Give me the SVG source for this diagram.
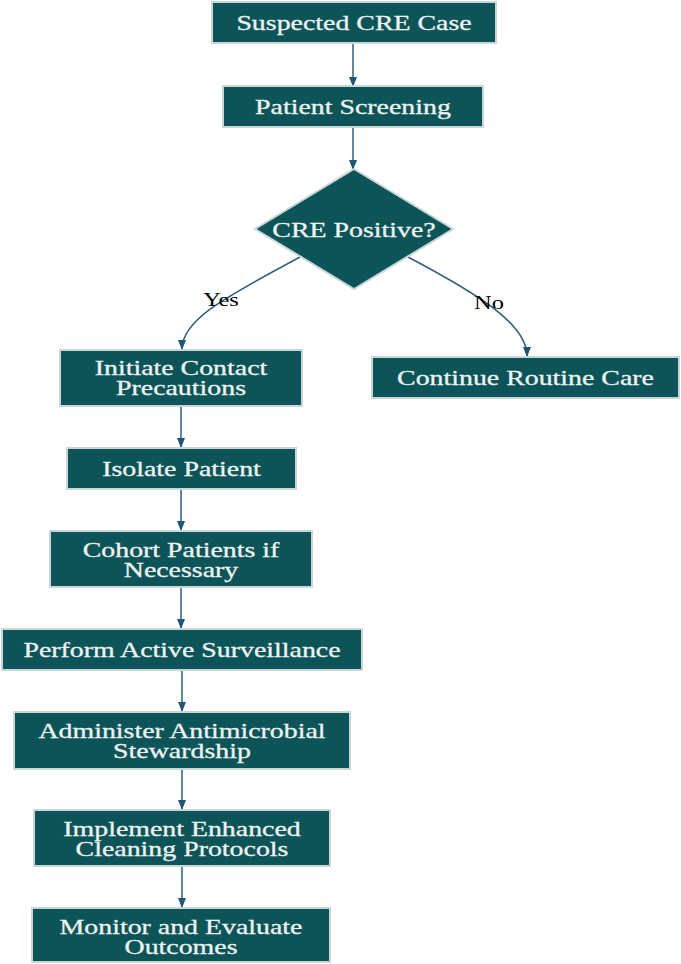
<svg xmlns="http://www.w3.org/2000/svg" width="681" height="964" viewBox="0 0 681 964">
<style>
.box{fill:#0c5458;stroke:#c9d6d6;stroke-width:2}
.t{font-family:"Liberation Serif","Times New Roman",serif;font-size:20.5px;fill:#eef2f0;text-anchor:middle;stroke:#eef2f0;stroke-width:0.3}
.lbl{font-family:"Liberation Serif","Times New Roman",serif;font-size:18px;fill:#000;text-anchor:middle}
.c{fill:none;stroke:#2b6080;stroke-width:1.5}
</style>
<defs>
<marker id="ah" markerUnits="userSpaceOnUse" markerWidth="10" markerHeight="8" refX="9" refY="4" orient="auto">
<path d="M0,0 L10,4 L0,8 Z" fill="#1f5575"/>
</marker>
</defs>
<rect width="681" height="964" fill="#fff"/>
<g id="connectors">
<path class="c" d="M353,43 V86" marker-end="url(#ah)"/>
<path class="c" d="M353,127 V169" marker-end="url(#ah)"/>
<path class="c" d="M300,257 C232,294 182,318 182,349" marker-end="url(#ah)"/>
<path class="c" d="M408,257 C478,294 527,324 527,356" marker-end="url(#ah)"/>
<path class="c" d="M181,406 V447" marker-end="url(#ah)"/>
<path class="c" d="M181,489 V530" marker-end="url(#ah)"/>
<path class="c" d="M181,587 V628" marker-end="url(#ah)"/>
<path class="c" d="M182,670 V711" marker-end="url(#ah)"/>
<path class="c" d="M182,769 V809" marker-end="url(#ah)"/>
<path class="c" d="M182,866 V907" marker-end="url(#ah)"/>
<text class="lbl" transform="matrix(1.36 0 0 1 221 306)">Yes</text>
<text class="lbl" transform="matrix(1.36 0 0 1 489 309)">No</text>
</g>
<g id="n1"><rect class="box" x="212" y="2" width="284" height="41"/>
<text class="t" transform="matrix(1.36 0 0 1 354 30)">Suspected CRE Case</text></g>
<g id="n2"><rect class="box" x="223" y="86" width="260" height="41"/>
<text class="t" transform="matrix(1.36 0 0 1 353 114)">Patient Screening</text></g>
<g id="n3"><path class="box" d="M354,169 L453,229 L354,289 L255,229 Z"/>
<text class="t" transform="matrix(1.36 0 0 1 354 237)">CRE Positive?</text></g>
<g id="n4"><rect class="box" x="60" y="350" width="242" height="56"/>
<text class="t" transform="matrix(1.36 0 0 1 181 375)">Initiate Contact</text>
<text class="t" transform="matrix(1.36 0 0 1 181 395)">Precautions</text></g>
<g id="n5"><rect class="box" x="372" y="357" width="307" height="41"/>
<text class="t" transform="matrix(1.36 0 0 1 525.5 385)">Continue Routine Care</text></g>
<g id="n6"><rect class="box" x="67" y="448" width="229" height="41"/>
<text class="t" transform="matrix(1.36 0 0 1 181.5 476)">Isolate Patient</text></g>
<g id="n7"><rect class="box" x="50" y="531" width="262" height="56"/>
<text class="t" transform="matrix(1.36 0 0 1 181 557)">Cohort Patients if</text>
<text class="t" transform="matrix(1.36 0 0 1 181 577)">Necessary</text></g>
<g id="n8"><rect class="box" x="2" y="629" width="360" height="41"/>
<text class="t" transform="matrix(1.36 0 0 1 182 657)">Perform Active Surveillance</text></g>
<g id="n9"><rect class="box" x="14" y="712" width="336" height="57"/>
<text class="t" transform="matrix(1.36 0 0 1 182 738)">Administer Antimicrobial</text>
<text class="t" transform="matrix(1.36 0 0 1 182 758)">Stewardship</text></g>
<g id="n10"><rect class="box" x="34" y="810" width="296" height="56"/>
<text class="t" transform="matrix(1.36 0 0 1 182 836)">Implement Enhanced</text>
<text class="t" transform="matrix(1.36 0 0 1 182 856)">Cleaning Protocols</text></g>
<g id="n11"><rect class="box" x="32" y="908" width="298" height="54"/>
<text class="t" transform="matrix(1.36 0 0 1 181 934)">Monitor and Evaluate</text>
<text class="t" transform="matrix(1.36 0 0 1 181 954)">Outcomes</text></g>
</svg>
